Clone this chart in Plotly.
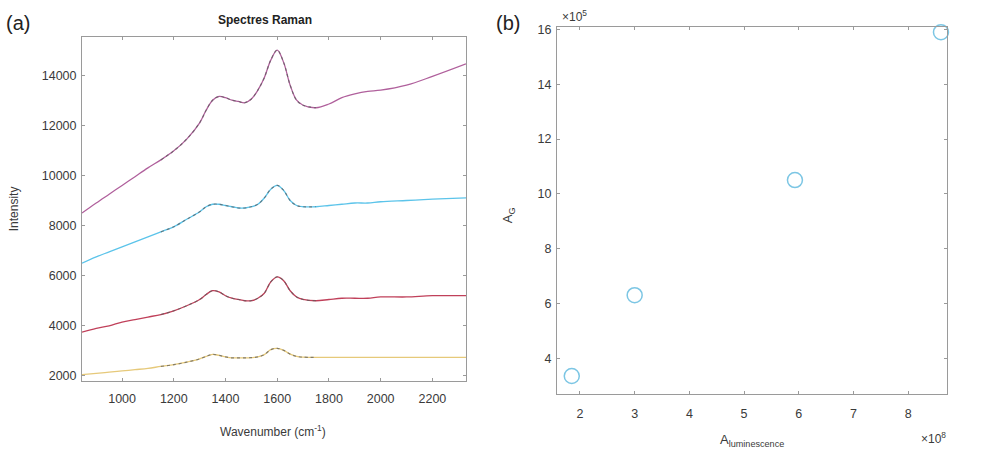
import plotly.graph_objects as go

W, H = 987, 453

# ---------------- data ----------------
wavenumber = [845, 900, 950, 1000, 1050, 1100, 1150, 1200, 1250, 1300, 1325, 1350, 1375,
              1400, 1425, 1450, 1475, 1500, 1525, 1550, 1575, 1600, 1625, 1650, 1675,
              1700, 1750, 1800, 1850, 1900, 1950, 2000, 2100, 2200, 2330]
spec1 = [8500, 8900, 9250, 9600, 9950, 10300, 10620, 10980, 11450, 12100, 12600, 13000, 13150,
         13100, 13000, 12950, 12900, 13050, 13400, 13900, 14600, 15000, 14500, 13600, 13000,
         12800, 12700, 12850, 13100, 13250, 13350, 13400, 13600, 13950, 14450]
spec2 = [6500, 6750, 6950, 7150, 7350, 7550, 7750, 7950, 8250, 8550, 8750, 8850, 8850,
         8800, 8750, 8700, 8700, 8750, 8850, 9100, 9450, 9600, 9400, 9000, 8800,
         8750, 8750, 8800, 8850, 8900, 8900, 8950, 9000, 9050, 9100]
spec3 = [3750, 3900, 4000, 4150, 4250, 4350, 4450, 4600, 4800, 5050, 5250, 5400, 5350,
         5200, 5100, 5050, 5000, 5000, 5100, 5300, 5750, 5950, 5800, 5400, 5150,
         5050, 5000, 5050, 5100, 5100, 5100, 5150, 5150, 5200, 5200]
spec4 = [2050, 2100, 2150, 2200, 2250, 2300, 2380, 2450, 2550, 2680, 2780, 2860, 2820,
         2760, 2720, 2720, 2720, 2730, 2760, 2850, 3050, 3100, 3020, 2870, 2780,
         2750, 2740, 2740, 2740, 2740, 2740, 2740, 2740, 2740, 2740]
spec_colors = ["#b0609c", "#5cc4ea", "#c0405a", "#e6c97a"]

A_luminescence = [1.85e8, 3.0e8, 5.93e8, 8.6e8]
A_G = [3.35e5, 6.3e5, 10.5e5, 15.9e5]
x_scale, y_scale = 1e8, 1e5

a_xticks = [1000, 1200, 1400, 1600, 1800, 2000, 2200]
a_yticks = [2000, 4000, 6000, 8000, 10000, 12000, 14000]
b_xticks = [2, 3, 4, 5, 6, 7, 8]
b_yticks = [4, 6, 8, 10, 12, 14, 16]

# ---------------- layout helpers ----------------
def px_x(p):
    return p / W

def px_y(p):
    return 1 - p / H

FONT = "Liberation Sans, Arial, sans-serif"
AXCOL = "#9a9a9a"
TXT = "#3a3a3a"

fig = go.Figure()

# fit region indices (gray dotted overlays)
fit_lo, fit_hi = 6, 27
for s, c in zip([spec1, spec2, spec3, spec4], spec_colors):
    fig.add_trace(go.Scatter(x=wavenumber, y=s, mode="lines", line=dict(color=c, width=1.3, shape="spline"),
                             xaxis="x", yaxis="y", showlegend=False, hoverinfo="skip"))
    fig.add_trace(go.Scatter(x=wavenumber[fit_lo:fit_hi], y=s[fit_lo:fit_hi], mode="lines",
                             line=dict(color="rgba(90,90,90,0.7)", width=1.2, dash="dot", shape="spline"),
                             xaxis="x", yaxis="y", showlegend=False, hoverinfo="skip"))

fig.add_trace(go.Scatter(x=[v / x_scale for v in A_luminescence], y=[v / y_scale for v in A_G],
                         mode="markers",
                         marker=dict(symbol="circle-open", size=15, color="#7cc6e4", line=dict(width=1.5)),
                         xaxis="x2", yaxis="y2", showlegend=False, cliponaxis=False))

common = dict(showgrid=False, zeroline=False, showline=True, linecolor=AXCOL, linewidth=1,
              mirror="ticks", ticks="inside", ticklen=3, tickcolor=AXCOL, tickformat="d",
              tickfont=dict(family=FONT, size=12.5, color=TXT))

fig.update_layout(
    width=W, height=H, margin=dict(l=0, r=0, t=0, b=0),
    paper_bgcolor="white", plot_bgcolor="white",
    xaxis=dict(domain=[px_x(82), px_x(466)], range=[845, 2330], tickvals=a_xticks, anchor="y",
               ticklabelstandoff=6, **common),
    yaxis=dict(domain=[px_y(382), px_y(33)], range=[1800, 15540], tickvals=a_yticks, anchor="x",
               ticklabelstandoff=2, **common),
    xaxis2=dict(domain=[px_x(557), px_x(947)], range=[1.58, 8.71], tickvals=b_xticks, anchor="y2",
                ticklabelstandoff=8, **common),
    yaxis2=dict(domain=[px_y(395), px_y(23)], range=[2.7, 16.1], tickvals=b_yticks, anchor="x2",
                ticklabelstandoff=2, **common),
)

def ann(text, x, y, size=11, color=TXT, angle=0, xanchor="center", yanchor="middle", bold=False):
    if bold:
        text = "<b>" + text + "</b>"
    fig.add_annotation(text=text, x=px_x(x), y=px_y(y), xref="paper", yref="paper",
                       showarrow=False, textangle=angle, xanchor=xanchor, yanchor=yanchor,
                       font=dict(family=FONT, size=size, color=color))

ann("(a)", 18, 19, size=20, color="#222")
ann("(b)", 508, 19, size=20, color="#222")
ann("Spectres Raman", 265, 16, size=12, color="#222", bold=True)
ann("Intensity", 14, 208, size=12, angle=-90)
ann("Wavenumber (cm<sup>-1</sup>)", 273, 433, size=12)
ann("A<sub>G</sub>", 508, 214, size=13, angle=-90)
ann("A<sub>luminescence</sub>", 752, 442, size=13)
ann("×10<sup>5</sup>", 560, 12, size=12, xanchor="left")
ann("×10<sup>8</sup>", 948, 440, size=12, xanchor="right")

fig.write_html("out.html")
